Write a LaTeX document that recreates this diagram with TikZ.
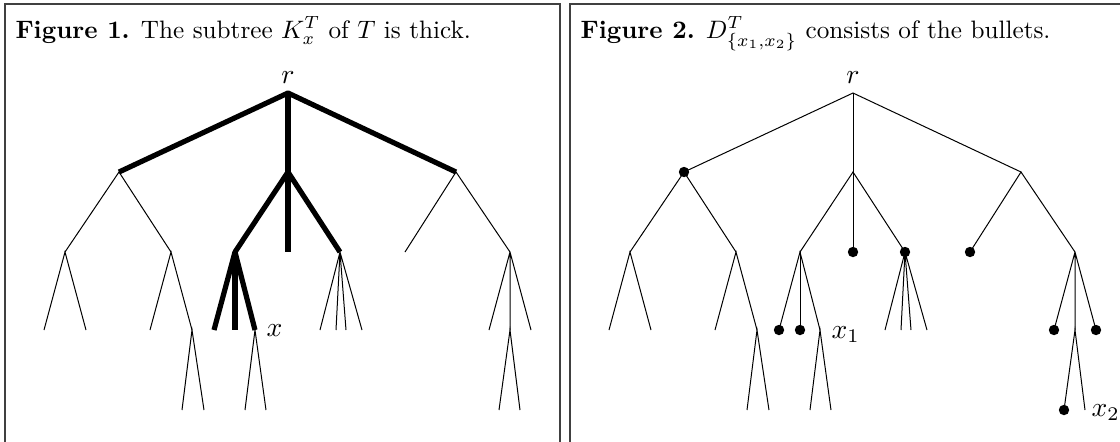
\documentclass[tikz,border=0pt]{standalone}
\begin{document}
\begin{tikzpicture}[x=0.5pt,y=-0.5pt,
  thin edge/.style={line width=0.5pt},
  thick edge/.style={line width=2.6pt},
  frame/.style={line width=0.8pt, draw=black!75},
  bullet/.style={circle, fill=black, inner sep=0pt, minimum size=5.2pt},
  txt/.style={scale=1.38, transform shape, inner sep=0pt},
  caption/.style={scale=1.26, transform shape, inner sep=0pt, anchor=base west},
  leaflabel/.style={txt, anchor=base west}]
\useasboundingbox (0,0) rectangle (1120,441);
% frames
\draw[frame] (5,470) -- (5,4) -- (560,4) -- (560,470);
\draw[frame] (570,470) -- (570,4) -- (1130,4);
% tree coordinates, two copies
\foreach \p/\dx in {L/0, R/565}{
  \begin{scope}[xshift=\dx*0.5pt]
  \coordinate (\p r) at (288,93);
  \coordinate (\p a) at (119,172);
  \coordinate (\p b) at (288,172);
  \coordinate (\p c) at (456,172);
  \coordinate (\p aa) at (65,252);
  \coordinate (\p ab) at (171,252);
  \coordinate (\p ba) at (235,252);
  \coordinate (\p bb) at (288,252);
  \coordinate (\p bc) at (340,252);
  \coordinate (\p ca) at (405,252);
  \coordinate (\p cb) at (510,252);
  \coordinate (\p aaa) at (44,330);
  \coordinate (\p aab) at (86,330);
  \coordinate (\p aba) at (150,330);
  \coordinate (\p abb) at (192,330);
  \coordinate (\p baa) at (214,330);
  \coordinate (\p bab) at (235,330);
  \coordinate (\p bac) at (255,330);
  \coordinate (\p bca) at (320,330);
  \coordinate (\p bcb) at (336,330);
  \coordinate (\p bcc) at (346,330);
  \coordinate (\p bcd) at (362,330);
  \coordinate (\p cba) at (489,330);
  \coordinate (\p cbb) at (510,330);
  \coordinate (\p cbc) at (531,330);
  \coordinate (\p abba) at (182,410);
  \coordinate (\p abbb) at (204,410);
  \coordinate (\p baca) at (245,410);
  \coordinate (\p bacb) at (266,410);
  \coordinate (\p cbba) at (499,410);
  \coordinate (\p cbbb) at (520,410);
  \end{scope}
}
% ---------- Figure 1 ----------
\node[caption] (cap1) at (15,38) {\textbf{Figure 1.} The subtree $K_x^T$ of $T$ is thick.};
\node[txt, anchor=base] (lr) at ([yshift=5pt]Lr) {$r$};
\draw[thick edge, line join=round] (La) -- (Lr) -- (Lc);
\draw[thick edge] (Lr) -- (Lb);
\draw[thick edge, line join=round] (Lba) -- (Lb) -- (Lbc);
\draw[thick edge] (Lb) -- (Lbb);
\draw[thick edge, line join=round] (Lbaa) -- (Lba) -- (Lbac);
\draw[thick edge] (Lba) -- (Lbab);
\draw[thin edge] (Laa) -- (La) -- (Lab);
\draw[thin edge] (Lca) -- (Lc) -- (Lcb);
\draw[thin edge] (Laaa) -- (Laa) -- (Laab);
\draw[thin edge] (Laba) -- (Lab) -- (Labb);
\draw[thin edge] (Labba) -- (Labb) -- (Labbb);
\draw[thin edge] (Lbaca) -- (Lbac) -- (Lbacb);
\draw[thin edge] (Lbc) -- (Lbca) (Lbc) -- (Lbcb) (Lbc) -- (Lbcc) (Lbc) -- (Lbcd);
\draw[thin edge] (Lcb) -- (Lcba) (Lcb) -- (Lcbb) (Lcb) -- (Lcbc);
\draw[thin edge] (Lcbba) -- (Lcbb) -- (Lcbbb);
\node[leaflabel] (lx) at ([xshift=5.5pt,yshift=-3pt]Lbac) {$x$};
% ---------- Figure 2 ----------
\node[caption] (cap2) at (580,38) {\textbf{Figure 2.} $D^T_{\{x_1,x_2\}}$ consists of the bullets.};
\node[txt, anchor=base] (rr) at ([yshift=5pt]Rr) {$r$};
\draw[thin edge] (Ra) -- (Rr) -- (Rc);
\draw[thin edge] (Rr) -- (Rb);
\draw[thin edge] (Rba) -- (Rb) -- (Rbc);
\draw[thin edge] (Rb) -- (Rbb);
\draw[thin edge] (Rbaa) -- (Rba) -- (Rbac);
\draw[thin edge] (Rba) -- (Rbab);
\draw[thin edge] (Raa) -- (Ra) -- (Rab);
\draw[thin edge] (Rca) -- (Rc) -- (Rcb);
\draw[thin edge] (Raaa) -- (Raa) -- (Raab);
\draw[thin edge] (Raba) -- (Rab) -- (Rabb);
\draw[thin edge] (Rabba) -- (Rabb) -- (Rabbb);
\draw[thin edge] (Rbaca) -- (Rbac) -- (Rbacb);
\draw[thin edge] (Rbc) -- (Rbca) (Rbc) -- (Rbcb) (Rbc) -- (Rbcc) (Rbc) -- (Rbcd);
\draw[thin edge] (Rcb) -- (Rcba) (Rcb) -- (Rcbb) (Rcb) -- (Rcbc);
\draw[thin edge] (Rcbba) -- (Rcbb) -- (Rcbbb);
\foreach \n in {a,bb,bc,ca,baa,bab,cba,cbc,cbba}{
  \node[bullet] (b\n) at (R\n) {};
}
\node[leaflabel] (lx1) at ([xshift=5.5pt,yshift=-4pt]Rbac) {$x_1$};
\node[leaflabel] (lx2) at ([xshift=3pt,yshift=-3pt]Rcbbb) {$x_2$};
\end{tikzpicture}
\end{document}
